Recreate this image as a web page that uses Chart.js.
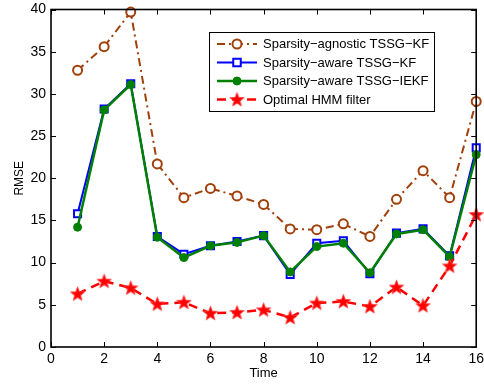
<!DOCTYPE html>
<html>
<head>
<meta charset="utf-8">
<script src="https://cdn.jsdelivr.net/npm/chart.js@4.4.1/dist/chart.umd.min.js"></script>
<style>
  html, body { margin: 0; padding: 0; background: #fff; overflow: hidden; }
  #wrap { width: 484px; height: 385px; overflow: hidden; }
</style>
</head>
<body>
<!-- canvas is a little wider than the page so the "16" label spills past the right edge -->
<div id="wrap"><canvas id="rmseChart" width="488" height="385"></canvas></div>
<script>
// RMSE per time step for each filter
const times = [1, 2, 3, 4, 5, 6, 7, 8, 9, 10, 11, 12, 13, 14, 15, 16];
const agnosticKF = [32.8, 35.6, 39.7, 21.7, 17.7, 18.8, 17.9, 16.9, 14.0, 13.9, 14.6, 13.1, 17.5, 20.9, 17.7, 29.1];
const awareKF = [15.8, 28.2, 31.2, 13.1, 11.0, 12.0, 12.5, 13.2, 8.6, 12.3, 12.6, 8.7, 13.5, 14.0, 10.8, 23.6];
const awareIEKF = [14.2, 28.1, 31.1, 13.0, 10.6, 12.0, 12.4, 13.2, 8.9, 11.9, 12.3, 8.8, 13.4, 13.9, 10.7, 22.8];
const hmmFilter = [6.3, 7.8, 7.0, 5.1, 5.3, 4.0, 4.1, 4.4, 3.5, 5.2, 5.4, 4.8, 7.1, 4.9, 9.6, 15.7];

const seriesNames = [
    'Sparsity\u2212agnostic TSSG\u2212KF',
    'Sparsity\u2212aware TSSG\u2212KF',
    'Sparsity\u2212aware TSSG\u2212IEKF',
    'Optimal HMM filter'
];
const xTicks = [0, 2, 4, 6, 8, 10, 12, 14, 16];
const yTicks = [0, 5, 10, 15, 20, 25, 30, 35, 40];

const FONT = 'Liberation Sans, Arial, Helvetica, sans-serif';
const BROWN = 'rgb(160,64,10)';
const BLUE = 'rgb(0,0,255)';
const GREEN = 'rgb(0,128,0)';
const RED = 'rgb(255,0,0)';

// five-pointed star marker
function makeStar(r) {
    const c = document.createElement('canvas');
    const s = Math.ceil(r * 2 + 4);
    c.width = s; c.height = s;
    const g = c.getContext('2d');
    const cx = s / 2, cy = s / 2 + 0.5;
    g.beginPath();
    for (let i = 0; i < 10; i++) {
        const rad = i % 2 === 0 ? r : r * 0.42;
        const a = -Math.PI / 2 + i * Math.PI / 5;
        const px = cx + rad * Math.cos(a), py = cy + rad * Math.sin(a);
        if (i === 0) g.moveTo(px, py); else g.lineTo(px, py);
    }
    g.closePath();
    g.fillStyle = RED;
    g.fill();
    g.strokeStyle = 'rgba(255,60,60,0.8)';
    g.lineWidth = 1;
    g.stroke();
    return c;
}
const star = makeStar(7.5);

function toPoints(ys) {
    return times.map((t, i) => ({ x: t, y: ys[i] }));
}

// box, inward ticks on all four sides, and the legend
const frame = {
    id: 'frame',
    afterDraw(chart) {
        const { ctx, chartArea: a, scales } = chart;
        ctx.save();
        ctx.strokeStyle = '#000';
        ctx.lineWidth = 1.6;
        ctx.strokeRect(a.left, a.top, a.right - a.left, a.bottom - a.top);
        ctx.lineWidth = 1;
        const tl = 5;
        ctx.beginPath();
        xTicks.forEach(v => {
            const px = Math.round(scales.x.getPixelForValue(v)) + 0.5;
            ctx.moveTo(px, a.bottom); ctx.lineTo(px, a.bottom - tl);
            ctx.moveTo(px, a.top); ctx.lineTo(px, a.top + tl);
        });
        yTicks.forEach(v => {
            const py = Math.round(scales.y.getPixelForValue(v)) + 0.5;
            ctx.moveTo(a.left, py); ctx.lineTo(a.left + tl, py);
            ctx.moveTo(a.right, py); ctx.lineTo(a.right - tl, py);
        });
        ctx.stroke();

        // legend
        const bx = 209, by = 32, bw = 225, bh = 79;
        ctx.fillStyle = '#fff';
        ctx.fillRect(bx, by, bw, bh);
        ctx.lineWidth = 1;
        ctx.strokeStyle = '#000';
        ctx.strokeRect(bx + 0.5, by + 0.5, bw, bh);
        const rows = [44, 62.5, 81, 99.5];
        const x0 = 217, x1 = 257, xm = 237;
        ctx.font = '13px ' + FONT;
        ctx.textBaseline = 'middle';
        chart.data.datasets.forEach((ds, i) => {
            const y = rows[i];
            ctx.save();
            ctx.strokeStyle = ds.borderColor;
            ctx.lineWidth = ds.borderWidth;
            ctx.setLineDash(ds.borderDash || []);
            ctx.beginPath();
            ctx.moveTo(x0, y); ctx.lineTo(x1, y);
            ctx.stroke();
            ctx.setLineDash([]);
            if (ds.pointStyle === 'circle') {
                ctx.beginPath();
                ctx.arc(xm, y, ds.pointRadius, 0, Math.PI * 2);
                ctx.fillStyle = ds.pointBackgroundColor;
                ctx.fill();
                ctx.lineWidth = ds.pointBorderWidth;
                ctx.strokeStyle = ds.pointBorderColor;
                ctx.stroke();
            } else if (ds.pointStyle === 'rect') {
                const r = ds.pointRadius * 0.75;
                ctx.fillStyle = ds.pointBackgroundColor;
                ctx.fillRect(xm - r, y - r, 2 * r, 2 * r);
                ctx.lineWidth = ds.pointBorderWidth;
                ctx.strokeStyle = ds.pointBorderColor;
                ctx.strokeRect(xm - r, y - r, 2 * r, 2 * r);
            } else {
                ctx.drawImage(star, xm - star.width / 2, y - star.height / 2);
            }
            ctx.restore();
            ctx.fillStyle = '#000';
            ctx.fillText(ds.label, 263, y + 0.5);
        });
        ctx.restore();
    }
};

new Chart(document.getElementById('rmseChart'), {
    type: 'line',
    data: {
        datasets: [
            {
                label: seriesNames[0],
                data: toPoints(agnosticKF),
                borderColor: BROWN,
                borderWidth: 2,
                borderDash: [8, 4, 2, 4],
                pointStyle: 'circle',
                pointRadius: 4.5,
                pointBorderWidth: 2,
                pointBorderColor: BROWN,
                pointBackgroundColor: '#fff',
                order: 4
            },
            {
                label: seriesNames[1],
                data: toPoints(awareKF),
                borderColor: BLUE,
                borderWidth: 2,
                pointStyle: 'rect',
                pointRadius: 5,
                pointBorderWidth: 2,
                pointBorderColor: BLUE,
                pointBackgroundColor: '#fff',
                order: 3
            },
            {
                label: seriesNames[2],
                data: toPoints(awareIEKF),
                borderColor: GREEN,
                borderWidth: 2.5,
                pointStyle: 'circle',
                pointRadius: 4,
                pointBorderWidth: 1,
                pointBorderColor: GREEN,
                pointBackgroundColor: GREEN,
                order: 2
            },
            {
                label: seriesNames[3],
                data: toPoints(hmmFilter),
                borderColor: RED,
                borderWidth: 2.5,
                borderDash: [9, 6],
                pointStyle: star,
                pointRadius: 7,
                order: 1
            }
        ]
    },
    options: {
        responsive: false,
        animation: false,
        clip: false,
        layout: { padding: { top: 8, right: 0, left: 0, bottom: 0 } },
        plugins: { legend: { display: false }, tooltip: { enabled: false } },
        elements: { line: { tension: 0 } },
        scales: {
            x: {
                type: 'linear',
                min: 0, max: 16,
                afterBuildTicks: s => { s.ticks = xTicks.map(v => ({ value: v })); },
                afterFit: s => { s.height = 38; },
                grid: { display: false, drawTicks: false },
                border: { display: false },
                ticks: { color: '#000', font: { family: FONT, size: 14 }, padding: 4, maxRotation: 0 },
                title: { display: true, text: 'Time', color: '#000', font: { family: FONT, size: 13 }, padding: { top: 0, bottom: 4 } }
            },
            y: {
                min: 0, max: 40,
                afterBuildTicks: s => { s.ticks = yTicks.map(v => ({ value: v })); },
                afterFit: s => { s.width = 51; s.paddingTop = 0; s.paddingBottom = 0; },
                grid: { display: false, drawTicks: false },
                border: { display: false },
                ticks: { color: '#000', font: { family: FONT, size: 14 }, padding: 5 },
                title: { display: true, text: 'RMSE', color: '#000', font: { family: FONT, size: 12 }, padding: { top: 12, bottom: 0 } }
            }
        }
    },
    plugins: [frame]
});
</script>
</body>
</html>
